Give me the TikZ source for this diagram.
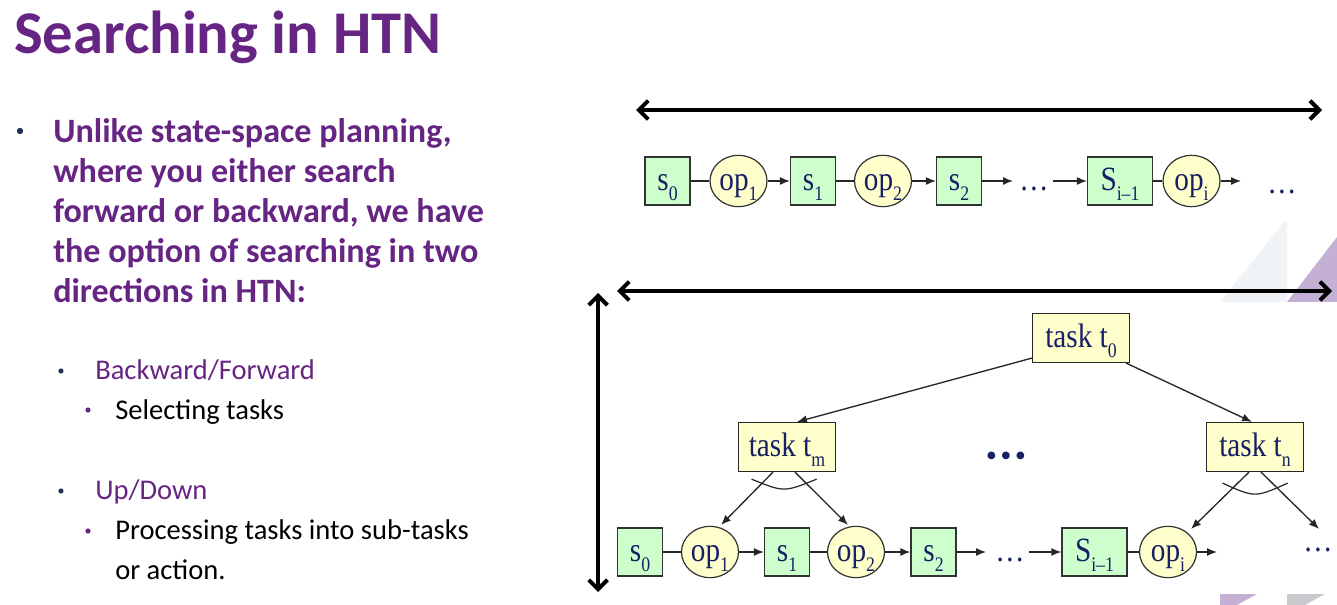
\documentclass[tikz,border=0pt]{standalone}
\usepackage{fontspec}
\setmainfont{Liberation Serif}
\newfontfamily\slidefont{Carlito}
\newfontfamily\labelserif[FakeStretch=0.86]{Liberation Serif}
\usetikzlibrary{arrows.meta,shapes.geometric,calc}

\definecolor{titlepurple}{RGB}{102,36,131}
\definecolor{bulletnavy}{RGB}{28,52,82}
\definecolor{statefill}{RGB}{204,255,204}
\definecolor{opfill}{RGB}{255,255,204}
\definecolor{labelnavy}{RGB}{22,32,100}
\definecolor{decopurple}{RGB}{197,176,213}
\definecolor{decolight}{RGB}{239,243,246}
\definecolor{decogrey}{RGB}{200,202,205}

% lowered subscript used in the state/operator/task labels
\newcommand\lsub[1]{\raisebox{-0.3em}{\fontsize{15.5}{15.5}\selectfont #1}}

\begin{document}
\begin{tikzpicture}[x=0.75pt,y=-0.75pt,
  labelfont/.style={text=labelnavy, font=\labelserif\fontsize{25.5}{25.5}\selectfont,
    text height=17pt, text depth=3pt},
  state/.style={labelfont, draw=black!80, line width=0.9pt, fill=statefill,
    minimum width=33.75pt, minimum height=36pt, inner sep=0pt},
  widestate/.style={state, minimum width=48.75pt},
  op/.style={labelfont, ellipse, draw=black!80, line width=0.9pt, fill=opfill,
    minimum width=42.75pt, minimum height=38.5pt, inner sep=0pt},
  task/.style={labelfont, draw=black!85, line width=0.9pt, fill=opfill,
    minimum width=72.75pt, minimum height=36.75pt, inner xsep=8pt, inner ysep=0pt},
  dotsl/.style={text=labelnavy, font=\labelserif\fontsize{25.5}{25.5}\selectfont, anchor=base, inner sep=0pt},
  link/.style={draw=black!85, line width=1pt},
  flow/.style={link, -{Latex[length=7.5pt,width=6pt]}},
  andarc/.style={draw=black!85, line width=0.9pt},
  bigarrow/.style={line width=3pt, {Straight Barb[length=7pt,width=14pt]}-{Straight Barb[length=7pt,width=14pt]}},
  titletext/.style={anchor=base west, inner sep=0pt, text=titlepurple, font=\slidefont\bfseries\fontsize{45.5}{45.5}\selectfont},
  maintext/.style={anchor=base west, inner sep=0pt, text=titlepurple, font=\slidefont\bfseries\fontsize{25.6}{25.6}\selectfont},
  subtext/.style={anchor=base west, inner sep=0pt, text=titlepurple, font=\slidefont\fontsize{21.4}{21.4}\selectfont},
  subsubtext/.style={anchor=base west, inner sep=0pt, text=black, font=\slidefont\fontsize{21.4}{21.4}\selectfont},
]
\useasboundingbox (0,0) rectangle (1337,605);

% decorative corner shapes
\fill[decolight] (1220,302) -- (1284,222) -- (1287,222) -- (1287,302) -- cycle;
\fill[decopurple] (1287,302) -- (1337,237) -- (1337,302) -- cycle;
\fill[decopurple] (1220,594) -- (1257,594) -- (1237,605) -- (1220,605) -- cycle;
\fill[decogrey] (1287,594) -- (1325,594) -- (1305,605) -- (1287,605) -- cycle;

% slide text
\node[titletext] (title) at (14,54) {Searching in HTN};

\fill[bulletnavy] (20,131) circle (3.2);
\node[maintext] (l1) at (53,143) {Unlike state-space planning,};
\node[maintext] (l2) at (53,183) {where you either search};
\node[maintext] (l3) at (53,223) {forward or backward, we have};
\node[maintext] (l4) at (53,263) {the option of searching in two};
\node[maintext] (l5) at (53,303) {directions in HTN:};

\fill[bulletnavy] (61,371) circle (2.6);
\node[subtext] (bf) at (95,379) {Backward/Forward};
\fill[titlepurple] (88,410) circle (2.6);
\node[subsubtext] (sel) at (115,419) {Selecting tasks};

\fill[bulletnavy] (61,491) circle (2.6);
\node[subtext] (ud) at (95,499) {Up/Down};
\fill[titlepurple] (88,531) circle (2.6);
\node[subsubtext] (proc1) at (115,539) {Processing tasks into sub-tasks};
\node[subsubtext] (proc2) at (115,579) {or action.};

% direction arrows
\coordinate (h1l) at (636,110);
\coordinate (h1r) at (1322,110);
\draw[bigarrow] (h1l) -- (h1r);
\coordinate (h2l) at (617,291);
\coordinate (h2r) at (1332,291);
\draw[bigarrow] (h2l) -- (h2r);
\coordinate (vt) at (598,293);
\coordinate (vb) at (598,592);
\draw[bigarrow] (vt) -- (vb);

% state-space chain
\node[state] (a0) at (667.5,181) {s\lsub{0}};
\node[op] (a1) at (738.5,181) {op\lsub{1}};
\node[state] (a2) at (813,181) {s\lsub{1}};
\node[op] (a3) at (883,181) {op\lsub{2}};
\node[state] (a4) at (959,181) {s\lsub{2}};
\coordinate (a4e) at (1013,181);
\node[dotsl] (ad) at (1034,191) {…};
\coordinate (a5s) at (1053,181);
\node[widestate] (a5) at (1120,181) {S\lsub{i–1}};
\node[op] (a6) at (1191.5,181) {op\lsub{i}};
\coordinate (a7) at (1241,181);
\node[dotsl] (ae) at (1282,194) {…};

\draw[link] (a0) -- (a1);
\draw[flow] (a1) -- (a2);
\draw[link] (a2) -- (a3);
\draw[flow] (a3) -- (a4);
\draw[flow] (a4) -- (a4e);
\draw[flow] (a5s) -- (a5);
\draw[link] (a5) -- (a6);
\draw[flow] (a6) -- (a7);

% task hierarchy
\node[task] (t0) at (1081,338) {task t\lsub{0}};
\node[task] (tm) at (787,447) {task t\lsub{m}};
\node[task] (tn) at (1255,447) {task t\lsub{n}};
\node[labelnavy, anchor=base, inner sep=0pt, font=\fontsize{24}{24}\selectfont] (mid) at (1006,466)
  {\textbullet\kern2.5pt\textbullet\kern2.5pt\textbullet};

% plan chain under the tasks
\node[state] (b0) at (640,552) {s\lsub{0}};
\node[op] (b1) at (710,552) {op\lsub{1}};
\node[state] (b2) at (787,552) {s\lsub{1}};
\node[op] (b3) at (856,552) {op\lsub{2}};
\node[state] (b4) at (933.5,552) {s\lsub{2}};
\coordinate (b4e) at (986,552);
\node[dotsl] (bd) at (1010,561) {\ldots};
\coordinate (b5s) at (1029,552);
\node[widestate] (b5) at (1094.5,552) {S\lsub{i–1}};
\node[op] (b6) at (1168,552) {op\lsub{i}};
\coordinate (b7) at (1217,552);
\node[dotsl] (be) at (1318,551) {\ldots};

\draw[link] (b0) -- (b1);
\draw[flow] (b1) -- (b2);
\draw[link] (b2) -- (b3);
\draw[flow] (b3) -- (b4);
\draw[flow] (b4) -- (b4e);
\draw[flow] (b5s) -- (b5);
\draw[link] (b5) -- (b6);
\draw[flow] (b6) -- (b7);

% decompositions
\draw[flow] ($(t0.south west)+(0,-5)$) -- ($(tm.north)+(10,0)$);
\draw[flow] ($(t0.south east)+(-4,0)$) -- ($(tn.north)+(-3,0)$);
\draw[flow] ($(tm.south)+(-14,0)$) -- ($(b1.center)+(11,-27)$);
\draw[flow] ($(tm.south)+(8,0)$) -- ($(b3.center)+(-8,-27)$);
\coordinate (tnout) at (1319,529);
\draw[flow] ($(tn.south)+(-6,0)$) -- ($(b6.center)+(23,-23)$);
\draw[flow] ($(tn.south)+(6,0)$) -- (tnout);
\draw[andarc] ($(tm.south)+(-35.5,7)$) .. controls ($(tm.south)+(-3,20.3)$) .. ($(tm.south)+(29.7,7)$);
\draw[andarc] ($(tn.south)+(-32.5,11)$) .. controls ($(tn.south)+(0,25.7)$) .. ($(tn.south)+(32.7,11)$);
\end{tikzpicture}
\end{document}
